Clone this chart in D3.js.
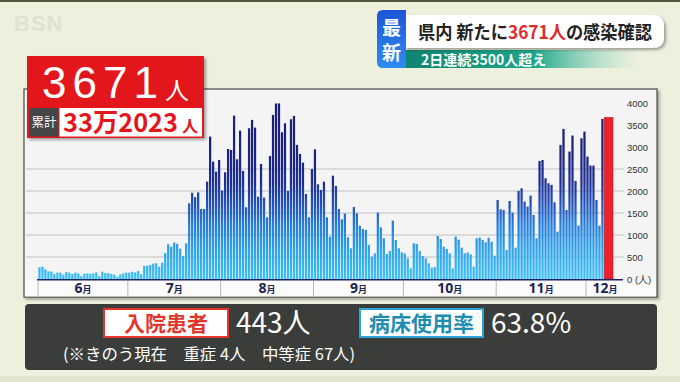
<!DOCTYPE html>
<html><head><meta charset="utf-8">
<script src="https://cdn.jsdelivr.net/npm/d3@7"></script>
<style>html,body{margin:0;padding:0;background:#eef0de;}svg{display:block;}</style>
</head><body>
<svg id="c" width="680" height="382"></svg>
<script>
// ---- data ----
const monthLabels = ["6","7","8","9","10","11","12"];
const june = [265,280,220,175,167,114,144,144,99,159,144,114,144,129,68,121,129,121,129,152,68,167,136,136,114,99,53,106,129,144];
const july = [145,165,150,180,110,300,305,315,350,360,280,370,590,790,735,830,800,690,520,810,1720,1960,1860,1970,1590,1590,2213,3237,2668,2441,2706];
const aug = [2009,2426,2956,2933,3714,2721,3373,2456,1630,3426,3616,3441,1872,2615,1850,1402,2797,3729,3990,3990,3335,3540,2001,3631,3707,3047,2842,2645,1933,1402,2501];
const sep = [2947,2152,2023,2212,1402,962,2348,2114,1591,1356,1485,947,697,1636,1492,1212,1136,1114,773,508,583,1508,1174,924,568,636,1326,886,697,606];
const oct = [580,470,242,811,796,636,523,470,356,258,273,978,909,735,682,583,242,962,894,712,583,606,560,280,924,940,886,833,940,848,530];
const nov = [1796,1584,1569,659,1773,1508,712,2001,2062,1759,1645,1895,1455,925,2683,2706,2289,2175,2138,1743,1076,3047,3411,1569,2896,3260,2228,1213,3199,3350];
const dec = [2782,2577,2577,1796,1213,3638];
const todayValue = 3671;
const yTicks = [0,500,1000,1500,2000,2500,3000,3500,4000];
const gridValues = [500,1000,1500,2000,2500];

const headlineParts = [["県内 新たに","#222"],["3671人","#e02a2a"],["の感染確認","#222"]];
const subHeadline = "2日連続3500人超え";
const bigNumber = "3671";
const cumulative = "33万2023";
const hospLabel = "入院患者", hospValue = "443人";
const bedLabel = "病床使用率", bedValue = "63.8%";
const noteText = "(※きのう現在　重症 4人　中等症 67人)";

const JP = "'Noto Sans CJK JP','Noto Sans',sans-serif";
const svg = d3.select("#c");
const defs = svg.append("defs");

// scales
const start = new Date(2022,5,1), endAll = new Date(2022,11,10), today = new Date(2022,11,7);
const x = d3.scaleTime().domain([start, endAll]).range([38, 613]);
const y = d3.scaleLinear().domain([0,4000]).range([279,103]);
const days = d3.timeDay.range(start, today);
const values = [].concat(june, july, aug, sep, oct, nov, dec);
const data = days.map((d,i)=>({d, v:values[i]}));

// gradients / filters
const bg = defs.append("linearGradient").attr("id","barGrad").attr("gradientUnits","userSpaceOnUse")
  .attr("x1",0).attr("x2",0).attr("y1",y(0)).attr("y2",y(4000));
[[0,"#3cc0f7"],[0.15,"#2ea6ec"],[0.3,"#2680dc"],[0.42,"#2354bb"],[0.55,"#1d2f95"],[0.7,"#1b2380"],[1,"#1a1e74"]]
  .forEach(s=>bg.append("stop").attr("offset",s[0]).attr("stop-color",s[1]));
const blueG = defs.append("linearGradient").attr("id","blueG").attr("x1",0).attr("x2",0).attr("y1",0).attr("y2",1);
blueG.append("stop").attr("offset",0).attr("stop-color","#1d55d6");
blueG.append("stop").attr("offset",1).attr("stop-color","#2f8cf2");
const tealG = defs.append("linearGradient").attr("id","tealG").attr("x1",0).attr("x2",1).attr("y1",0).attr("y2",0);
tealG.append("stop").attr("offset",0).attr("stop-color","#0f8570");
tealG.append("stop").attr("offset",0.55).attr("stop-color","#1ea68a");
tealG.append("stop").attr("offset",1).attr("stop-color","#8fd8c0").attr("stop-opacity",0);
const sh = defs.append("filter").attr("id","sh").attr("x","-5%").attr("y","-5%").attr("width","115%").attr("height","120%");
sh.append("feDropShadow").attr("dx",2).attr("dy",2).attr("stdDeviation",1.5).attr("flood-opacity",0.35);

// background
svg.append("rect").attr("width",680).attr("height",382).attr("fill","#eef0de");
svg.append("rect").attr("width",680).attr("height",2).attr("fill","#55553f");
svg.append("rect").attr("y",376).attr("width",680).attr("height",6).attr("fill","#e2e4cf");
svg.append("text").attr("x",14).attr("y",31).text("BSN").attr("font-family","'Liberation Sans',sans-serif")
  .attr("font-size",22).attr("font-weight","bold").attr("fill","#dfe2cf").attr("letter-spacing",1);

// chart panel
svg.append("rect").attr("x",24).attr("y",89).attr("width",633).attr("height",208)
  .attr("fill","#f4f4f4").attr("stroke","#4a4a4a").attr("stroke-width",1.2).attr("filter","url(#sh)");
svg.append("rect").attr("x",25).attr("y",280).attr("width",631).attr("height",16.4).attr("fill","#fbfbfb");

// grid
svg.append("g").selectAll("line").data(gridValues).join("line")
  .attr("x1",26).attr("x2",624).attr("y1",d=>y(d)).attr("y2",d=>y(d))
  .attr("stroke","#d2d2d2").attr("stroke-width",1.3);

// bars
svg.append("g").selectAll("rect").data(data).join("rect")
  .attr("x",d=>x(d.d)+0.3)
  .attr("width",d=>x(d3.timeDay.offset(d.d,1))-x(d.d)-0.75)
  .attr("y",d=>y(d.v)).attr("height",d=>y(0)-y(d.v))
  .attr("fill","url(#barGrad)");
svg.append("rect").attr("x",x(today)+0.2).attr("width",x(endAll)-x(today)-0.2)
  .attr("y",y(todayValue)).attr("height",y(0)-y(todayValue))
  .attr("fill","#e8232c").attr("stroke","#c51a22").attr("stroke-width",0.6);

// baseline + month axis
svg.append("line").attr("x1",37).attr("x2",623).attr("y1",y(0)+0.8).attr("y2",y(0)+0.8)
  .attr("stroke","#1d2560").attr("stroke-width",1.6);
const monthStarts = d3.timeMonth.range(start, new Date(2023,0,1));
svg.append("g").selectAll("line").data(monthStarts).join("line")
  .attr("x1",d=>x(d)).attr("x2",d=>x(d)).attr("y1",281).attr("y2",296)
  .attr("stroke","#b8b8b8").attr("stroke-width",1);
const ml = svg.append("g").selectAll("text").data(monthStarts).join("text")
  .attr("x",(d,i)=> i<6 ? (x(d)+x(d3.timeMonth.offset(d,1)))/2 : 605)
  .attr("y",293).attr("text-anchor","middle").attr("fill","#1c2452")
  .attr("font-family","'Noto Sans','Liberation Sans',sans-serif").attr("font-weight","bold");
ml.append("tspan").attr("font-size",14).text((d,i)=>monthLabels[i]);
ml.append("tspan").attr("font-size",9).attr("font-family",JP).text("月");

// y labels
const yAxis = d3.axisRight(y).tickValues(yTicks).tickSize(0).tickPadding(0)
  .tickFormat(v => v===0 ? "0 (人)" : String(v));
const ya = svg.append("g").attr("transform","translate(627,0)").call(yAxis);
ya.select(".domain").remove();
ya.selectAll("text").attr("font-family","'Liberation Sans',sans-serif").attr("font-size",9.5).attr("fill","#333");

// big red box
svg.append("rect").attr("x",27).attr("y",56).attr("width",177).attr("height",82).attr("fill","#e3161e").attr("filter","url(#sh)");
svg.append("text").attr("x",42).attr("y",97.5).text(bigNumber).attr("fill","#fff")
  .attr("font-family","'Liberation Sans',sans-serif").attr("font-size",44)
  .attr("textLength",116).attr("lengthAdjust","spacing");
svg.append("text").attr("x",165).attr("y",99).text("人").attr("fill","#fff").attr("font-family",JP).attr("font-size",24);
svg.append("rect").attr("x",29.5).attr("y",108).attr("width",29).attr("height",28.5).attr("fill","#464646");
svg.append("text").attr("x",44).attr("y",127).attr("text-anchor","middle").text("累計").attr("fill","#fff")
  .attr("font-family",JP).attr("font-size",12.5);
svg.append("rect").attr("x",59.5).attr("y",108).attr("width",142.5).attr("height",28.5).attr("fill","#fff");
svg.append("text").attr("x",63).attr("y",132).text(cumulative).attr("fill","#e3161e")
  .attr("font-family",JP).attr("font-weight","bold").attr("font-size",26)
  .attr("textLength",115).attr("lengthAdjust","spacingAndGlyphs");
svg.append("text").attr("x",182).attr("y",132).text("人").attr("fill","#e3161e")
  .attr("font-family",JP).attr("font-weight","bold").attr("font-size",16);

// headline
svg.append("path").attr("d","M405,50 H640 V68 H405 Z").attr("fill","url(#tealG)");
svg.append("path").attr("d","M405,15 H652 Q664,15 664,27 V37 Q664,48 652,48 H405 Z").attr("fill","#fff").attr("filter","url(#sh)");
svg.append("path").attr("d","M383,10 H406 V68 H383 Q377,68 377,62 V16 Q377,10 383,10 Z").attr("fill","url(#blueG)");
svg.append("text").attr("x",391.5).attr("y",35).attr("text-anchor","middle").text("最").attr("fill","#fff")
  .attr("font-family",JP).attr("font-weight","bold").attr("font-size",19);
svg.append("text").attr("x",391.5).attr("y",60).attr("text-anchor","middle").text("新").attr("fill","#fff")
  .attr("font-family",JP).attr("font-weight","bold").attr("font-size",19);
const ht = svg.append("text").attr("x",418).attr("y",39).attr("font-family",JP).attr("font-weight","bold")
  .attr("font-size",18).attr("textLength",234).attr("lengthAdjust","spacingAndGlyphs");
headlineParts.forEach(p=>ht.append("tspan").attr("fill",p[1]).text(p[0]));
svg.append("text").attr("x",421).attr("y",65).text(subHeadline).attr("fill","#fff")
  .attr("font-family",JP).attr("font-weight","bold").attr("font-size",14);

// bottom panel
svg.append("rect").attr("x",25).attr("y",304).attr("width",632).attr("height",66).attr("rx",4).attr("fill","#3b3d3b");
svg.append("rect").attr("x",104).attr("y",309).attr("width",124).attr("height",28).attr("fill","#fff")
  .attr("stroke","#e3352a").attr("stroke-width",2);
svg.append("text").attr("x",166).attr("y",331).attr("text-anchor","middle").text(hospLabel).attr("fill","#e3352a")
  .attr("font-family",JP).attr("font-weight","bold").attr("font-size",21);
svg.append("text").attr("x",236).attr("y",333).text(hospValue).attr("fill","#fff")
  .attr("font-family","'Noto Sans CJK JP',sans-serif").attr("font-size",28);
svg.append("rect").attr("x",360).attr("y",309).attr("width",123).attr("height",28).attr("fill","#fff")
  .attr("stroke","#2aa6d8").attr("stroke-width",2);
svg.append("text").attr("x",421.5).attr("y",331).attr("text-anchor","middle").text(bedLabel).attr("fill","#1d8db0")
  .attr("font-family",JP).attr("font-weight","bold").attr("font-size",21);
svg.append("text").attr("x",491).attr("y",333).text(bedValue).attr("fill","#fff")
  .attr("font-family","'Noto Sans CJK JP',sans-serif").attr("font-size",28);
svg.append("text").attr("x",63).attr("y",360).text(noteText).attr("fill","#fff")
  .attr("font-family",JP).attr("font-size",16).attr("textLength",292).attr("lengthAdjust","spacingAndGlyphs");
</script>
</body></html>
